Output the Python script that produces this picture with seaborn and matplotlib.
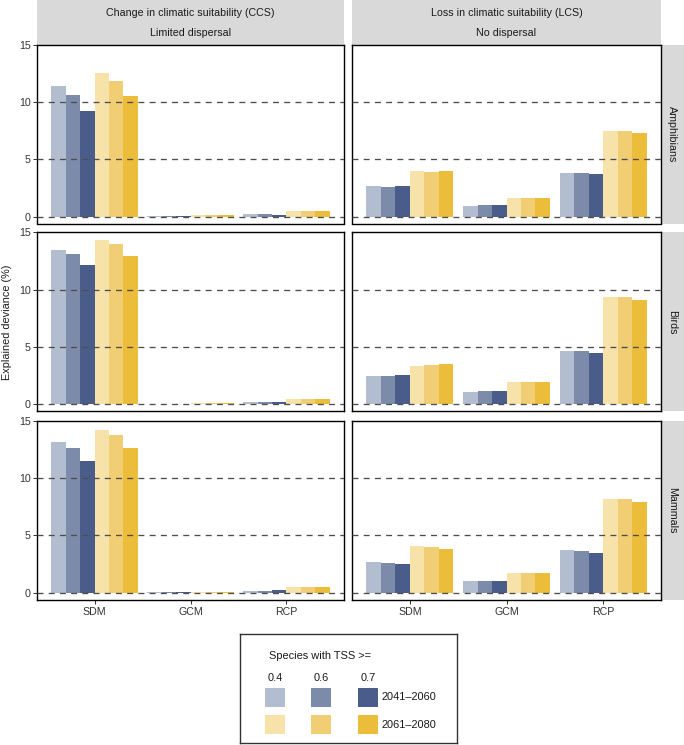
import numpy as np
import pandas as pd
import matplotlib
matplotlib.use('Agg')
import matplotlib.pyplot as plt
from matplotlib.patches import Rectangle
import seaborn as sns

drivers = ["SDM", "GCM", "RCP"]
taxa = ["Amphibians", "Birds", "Mammals"]
measures = ["CCS", "LCS"]
strip_top = [("Change in climatic suitability (CCS)", "Limited dispersal"),
             ("Loss in climatic suitability (LCS)", "No dispersal")]
periods = ["2041–2060", "2061–2080"]
tss_levels = ["0.4", "0.6", "0.7"]
colors = ["#b3bdd0", "#7d8baa", "#4a5d8a", "#f7e2a9", "#f1cd74", "#ebbd3b"]

# rows: SDM, GCM, RCP ; cols: 2041-2060 (0.4, 0.6, 0.7) then 2061-2080 (0.4, 0.6, 0.7)
amphibians_ccs = [[11.40, 10.60, 9.25, 12.55, 11.80, 10.50],
                  [0.04, 0.04, 0.04, 0.10, 0.10, 0.10],
                  [0.20, 0.20, 0.15, 0.45, 0.45, 0.45]]
amphibians_lcs = [[2.67, 2.60, 2.70, 3.97, 3.85, 3.95],
                  [0.95, 0.97, 0.97, 1.62, 1.62, 1.62],
                  [3.80, 3.80, 3.68, 7.45, 7.50, 7.33]]
birds_ccs = [[13.50, 13.08, 12.15, 14.33, 13.95, 12.94],
             [0.03, 0.03, 0.03, 0.10, 0.10, 0.10],
             [0.17, 0.17, 0.17, 0.49, 0.49, 0.49]]
birds_lcs = [[2.44, 2.47, 2.56, 3.37, 3.43, 3.52],
             [1.10, 1.13, 1.13, 1.95, 1.95, 1.95],
             [4.62, 4.62, 4.50, 9.39, 9.36, 9.07]]
mammals_ccs = [[13.10, 12.60, 11.52, 14.15, 13.74, 12.63],
               [0.03, 0.03, 0.03, 0.07, 0.07, 0.07],
               [0.15, 0.18, 0.20, 0.50, 0.50, 0.50]]
mammals_lcs = [[2.68, 2.62, 2.54, 4.05, 3.96, 3.82],
               [0.99, 0.99, 0.99, 1.72, 1.72, 1.72],
               [3.70, 3.64, 3.50, 8.16, 8.13, 7.90]]

tables = {("Amphibians", "CCS"): amphibians_ccs, ("Amphibians", "LCS"): amphibians_lcs,
          ("Birds", "CCS"): birds_ccs, ("Birds", "LCS"): birds_lcs,
          ("Mammals", "CCS"): mammals_ccs, ("Mammals", "LCS"): mammals_lcs}

groups = [f"{p} {t}" for p in periods for t in tss_levels]
rows = []
for (taxon, measure), tab in tables.items():
    for i, d in enumerate(drivers):
        for j, v in enumerate(tab[i]):
            rows.append(dict(taxon=taxon, measure=measure, driver=d, group=groups[j], value=v))
df = pd.DataFrame(rows)

sns.set_theme(style="white")
plt.rcParams['font.family'] = ['Liberation Sans', 'DejaVu Sans']

W, H = 684, 745
def box(x0, y0, x1, y1):
    return [x0 / W, 1 - y1 / H, (x1 - x0) / W, (y1 - y0) / H]

col_x = [(37, 344), (352, 661)]
row_y = [(44.6, 223.5), (232.3, 411.2), (420.7, 599.6)]
strip_bg = "#d9d9d9"
fig = plt.figure(figsize=(W / 100, H / 100), dpi=100)

# top strips
for c, (l1, l2) in enumerate(strip_top):
    sax = fig.add_axes(box(col_x[c][0], 0, col_x[c][1], row_y[0][0]))
    sax.set_facecolor(strip_bg)
    sax.set_xticks([]); sax.set_yticks([])
    for s in sax.spines.values():
        s.set_visible(False)
    for txt, yy in [(l1, 0.70), (l2, 0.25)]:
        sax.text(0.5, yy, txt, transform=sax.transAxes, ha='center', va='center',
                 fontsize=7.7, color='#1a1a1a')

for r, taxon in enumerate(taxa):
    # right strip
    rax = fig.add_axes(box(col_x[1][1] + 1, row_y[r][0], W, row_y[r][1]))
    rax.set_facecolor(strip_bg)
    rax.set_xticks([]); rax.set_yticks([])
    for s in rax.spines.values():
        s.set_visible(False)
    rax.text(0.45, 0.5, taxon, transform=rax.transAxes, rotation=-90, ha='center',
             va='center', fontsize=7.7, color='#1a1a1a')

    for c, measure in enumerate(measures):
        ax = fig.add_axes(box(col_x[c][0], row_y[r][0], col_x[c][1], row_y[r][1]))
        sub = df[(df.taxon == taxon) & (df.measure == measure)]
        sns.barplot(data=sub, x="driver", y="value", hue="group", order=drivers,
                    hue_order=groups, palette=colors, width=0.9, saturation=1,
                    legend=False, linewidth=0, ax=ax)
        for yv in [0, 5, 10]:
            ax.axhline(yv, color='#4d4d4d', lw=0.95, ls=(0, (4.5, 4)), zorder=3)
        ax.set_xlim(-0.6, 2.6)
        ax.set_ylim(-0.6, 15)
        ax.set_xlabel("")
        ax.set_ylabel("")
        for s in ax.spines.values():
            s.set_visible(True)
            s.set_color('black')
            s.set_linewidth(1.0)
        ax.tick_params(axis='both', length=3, width=0.7, color='#333333',
                       labelsize=7.7, labelcolor='#333333', pad=1.5)
        if c == 0:
            ax.set_yticks([0, 5, 10, 15])
            ax.tick_params(axis='y', left=True)
        else:
            ax.set_yticks([])
        if r == 2:
            ax.tick_params(axis='x', bottom=True, pad=2.5)
        else:
            ax.set_xticks([])

fig.text(7 / W, 1 - 322 / H, "Explained deviance (%)", rotation=90, ha='center',
         va='center', fontsize=7.8, color='#1a1a1a')

# legend
lax = fig.add_axes(box(240, 634, 457, 743))
lax.set_xlim(240, 457)
lax.set_ylim(743, 634)
lax.set_xticks([]); lax.set_yticks([])
lax.set_facecolor('white')
for s in lax.spines.values():
    s.set_color('#333333')
    s.set_linewidth(1.0)
lax.text(269, 656, "Species with TSS >=", fontsize=7.9, va='center', ha='left', color='#1a1a1a')
key_x = [265, 311, 358]
key_y = [688, 715]
for j, t in enumerate(tss_levels):
    lax.text(key_x[j] + 10, 678, t, fontsize=7.9, ha='center', va='center', color='#1a1a1a')
for i, p in enumerate(periods):
    for j in range(3):
        lax.add_patch(Rectangle((key_x[j], key_y[i]), 19.5, 19, facecolor=colors[i * 3 + j],
                                edgecolor='none'))
    lax.text(381, key_y[i] + 9.5, p, fontsize=7.9, ha='left', va='center', color='#1a1a1a')

fig.savefig("out.png", dpi=100)
